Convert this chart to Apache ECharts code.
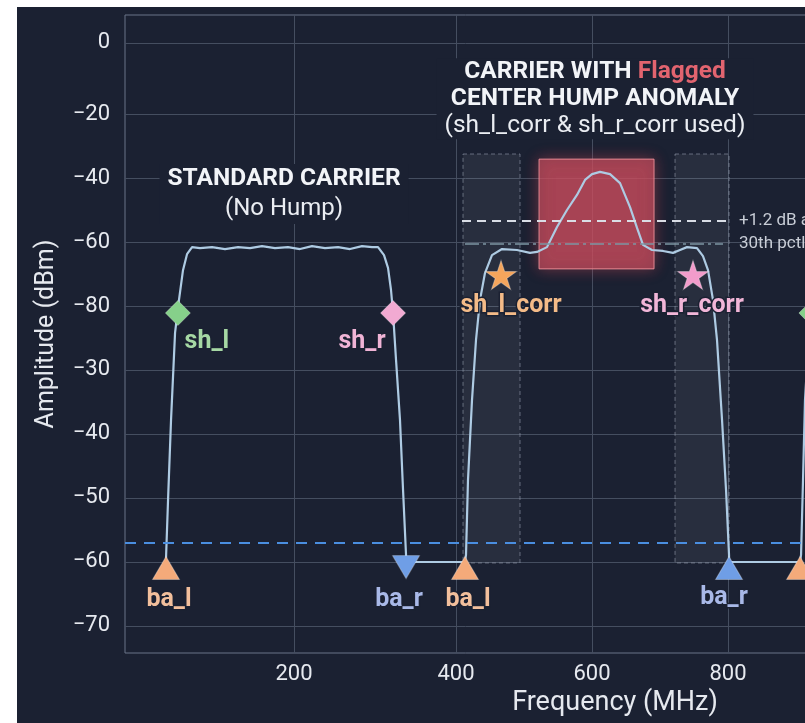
<!DOCTYPE html>
<html><head><meta charset="utf-8">
<script src="https://cdn.jsdelivr.net/npm/echarts@6/dist/echarts.min.js"></script>
<style>
html,body{margin:0;padding:0;background:#ffffff;width:805px;height:723px;overflow:hidden}
#panel{position:absolute;left:17px;top:7px;width:788px;height:716px;background:#1b2132}
#chart{position:absolute;left:0;top:0;width:805px;height:723px}
</style></head><body>
<div id="panel"></div><div id="chart"></div>
<script>
// ---- tick labels ----
const xTickValues = [161.8, 400, 600, 800];
const xTickLabels = ['200', '400', '600', '800'];
const yTickValues = [2.2, -20, -40, -60, -80, -100, -120, -140, -160, -180];
const yTickLabels = ['0', '\u221220', '\u221240', '\u221260', '\u221280', '\u221230', '\u221240', '\u221250', '\u221260', '\u221270'];

// ---- spectrum trace (MHz, dBm) ----
const traceFreq = [
  -26.5, -23.5, -19.1, -13.2, -7.4, -1.5, 4.4, 11.8, 23.5, 41.2, 60.3, 79.4, 97.1, 114.7, 133.8, 152.9,
  170.6, 188.2, 207.4, 226.5, 244.1, 261.8, 276.5, 285.3, 294.1, 300, 304.4, 307.4, 311.8, 317.6, 322.1,
  326.5, 326.5, 413.2,
  414.7, 417.6, 423.5, 429.4, 435.3, 442.6, 452.9, 467.6, 489.7, 508.8, 519.1, 533.8, 548.5, 563.2, 577.9,
  589.7, 600, 611.8, 626.5, 641.2, 655.9, 666.2, 675, 688.2, 704.4, 719.1, 729.4, 739.7, 754.4, 763.2,
  770.6, 777.9, 783.8, 791.2, 797.1, 801.5, 801.5, 905.9,
  907.4, 910.3, 913.2, 919.1, 925, 930.9, 936.8, 944.1, 960, 1000, 1040, 1080, 1120
];
const traceAmp = [
  -159, -140.6, -115.6, -88.4, -78.1, -68.8, -63.8, -61.6, -61.9, -61.6, -62.2, -61.6, -61.9, -61.3, -61.9, -61.6,
  -62.2, -61.3, -61.9, -61.6, -62.2, -61.3, -61.6, -61.6, -64.1, -68.1, -75, -82.2, -96.9, -115.6, -137.5,
  -157.8, -160, -160,
  -157.8, -134.4, -109.4, -90.6, -78.1, -69.7, -64.1, -62.2, -62.5, -63.4, -63.1, -61.6, -55.3, -50, -45.3,
  -40.6, -38.8, -38.1, -38.8, -41.6, -49.1, -55.6, -60.9, -62.5, -62.8, -63.4, -62.5, -61.6, -61.9, -64.4,
  -68.8, -78.1, -90.6, -115.6, -137.5, -157.8, -160, -160,
  -157.8, -134.4, -109.4, -88.4, -78.1, -68.8, -63.8, -61.6, -61.9, -61.3, -62, -61.5, -61.8
];

// ---- detected points ----
const shLeft = [[-9, -82.2], [922.6, -82.2]];
const shLeftNames = ['sh_l', ''];
const shRight = [[307.4, -82.2]];
const baLeft = [[-26.5, -161.9], [413.2, -161.9], [905.9, -161.9]];
const baLeftNames = ['ba_l', 'ba_l', ''];
const baRightDown = [[326.5, -161.6]];
const baRightUp = [[801.5, -161.9]];
const shLeftCorr = [[466.2, -70.3]];
const shRightCorr = [[748.5, -70.3]];

// ---- reference levels ----
const bandEdgeLevel = -154.1;
const humpLevel = -53.4;
const humpLevelSpan = [408.8, 800];
const pct30Level = -60.6;
const pct30Span = [413.2, 792.6];

// ---- regions ----
const shoulderWindows = [[410.3, 494.1], [722.1, 801.5]];
const shoulderWindowAmp = [-32.5, -160.3];
const humpBoxFreq = [522.1, 691.2];
const humpBoxAmp = [-34.1, -68.4];

// ---- annotations ----
const stdTitlePos = [147.1, -45];
const humpTitlePos = [604.4, -15.2];

const BG = '#1b2132';
const FONT = 'Roboto, "Noto Sans", sans-serif';
const TXT = '#e6e9ef';
const GRIDC = '#454e60';

function nearestLabel(values, labels, v) {
  let bi = 0, bd = Infinity;
  values.forEach((t, i) => { const d = Math.abs(t - v); if (d < bd) { bd = d; bi = i; } });
  return labels[bi];
}
const zip = (a, b) => a.map((v, i) => [v, b[i]]);
const named = (pts, names) => pts.map((p, i) => ({ value: p, name: names ? names[i] : '' }));

const STAR = 'path://M100,0 L122.45,69.1 L195.1,69.1 L136.3,111.8 L158.8,180.9 L100,138.2 L41.2,180.9 L63.7,111.8 L4.9,69.1 L77.55,69.1 Z';

function markerSeries(data, names, symbol, size, color, text, labelColor, offset, rotate) {
  return {
    type: 'scatter', data: named(data, names), symbol: symbol, symbolSize: size, symbolRotate: rotate || 0, z: 5,
    itemStyle: { color: color, opacity: 1, borderColor: 'rgba(255,255,255,0.3)', borderWidth: 1 },
    label: {
      show: true, formatter: names ? (p => p.name) : text, position: 'inside', offset: offset,
      color: labelColor, fontFamily: FONT, fontWeight: 'bold', fontSize: 25,
      textBorderColor: BG, textBorderWidth: 3
    }
  };
}

const option = {
  backgroundColor: 'transparent',
  animation: false,
  grid: { left: 125, top: 15, width: 980, height: 638, outerBoundsMode: 'none', containLabel: false, show: true, borderColor: '#6b7488', borderWidth: 1, backgroundColor: 'transparent' },
  xAxis: {
    type: 'value', min: -86.8, max: 1354.4,
    name: 'Frequency (MHz)', nameLocation: 'middle', nameGap: 34,
    nameTextStyle: { color: TXT, fontSize: 27, fontFamily: FONT },
    axisLine: { show: false },
    axisTick: { show: true, length: 6, customValues: xTickValues, lineStyle: { color: GRIDC } },
    axisLabel: { customValues: xTickValues, formatter: v => nearestLabel(xTickValues, xTickLabels, v), color: TXT, fontSize: 22, margin: 10, fontFamily: FONT },
    splitLine: { show: true, lineStyle: { color: GRIDC, width: 1 } }
  },
  yAxis: {
    type: 'value', min: -188.44, max: 10.94,
    name: 'Amplitude (dBm)', nameLocation: 'middle', nameGap: 66,
    nameTextStyle: { color: TXT, fontSize: 25, fontFamily: FONT },
    axisLine: { show: false },
    axisTick: { show: true, length: 7, customValues: yTickValues, lineStyle: { color: GRIDC } },
    axisLabel: { customValues: yTickValues, formatter: v => nearestLabel(yTickValues, yTickLabels, v), color: TXT, fontSize: 22, margin: 15, fontFamily: FONT },
    splitLine: { show: true, lineStyle: { color: GRIDC, width: 1 } }
  },
  series: [
    {
      type: 'line', data: zip(traceFreq, traceAmp), symbol: 'none', z: 3,
      lineStyle: { color: '#aecbe3', width: 2.2 },
      markArea: {
        silent: true,
        data: [
          [{ xAxis: shoulderWindows[0][0], yAxis: shoulderWindowAmp[0], itemStyle: { color: 'rgba(255,255,255,0.06)', borderColor: 'rgba(160,170,185,0.55)', borderWidth: 1, borderType: [4, 3] } },
           { xAxis: shoulderWindows[0][1], yAxis: shoulderWindowAmp[1] }],
          [{ xAxis: shoulderWindows[1][0], yAxis: shoulderWindowAmp[0], itemStyle: { color: 'rgba(255,255,255,0.06)', borderColor: 'rgba(160,170,185,0.55)', borderWidth: 1, borderType: [4, 3] } },
           { xAxis: shoulderWindows[1][1], yAxis: shoulderWindowAmp[1] }],
          [{ xAxis: humpBoxFreq[0], yAxis: humpBoxAmp[0], itemStyle: { color: 'rgba(200,78,94,0.66)', borderColor: 'rgba(245,150,160,0.85)', borderWidth: 1, shadowBlur: 14, shadowColor: 'rgba(225,75,90,0.6)' } },
           { xAxis: humpBoxFreq[1], yAxis: humpBoxAmp[1] }]
        ]
      },
      markLine: {
        silent: true, symbol: ['none', 'none'],
        data: [
          { yAxis: bandEdgeLevel, lineStyle: { color: '#4a8ee0', width: 2, type: [11, 8] }, label: { show: false } },
          [{ coord: [humpLevelSpan[0], humpLevel], lineStyle: { color: '#d9dde5', width: 2, type: [9, 6] },
             label: { show: true, position: 'end', distance: 11, formatter: '+1.2 dB above baseline', color: '#c8cdd6', fontSize: 17, fontFamily: FONT } },
           { coord: [humpLevelSpan[1], humpLevel] }],
          [{ coord: [pct30Span[0], pct30Level], lineStyle: { color: '#7e97a4', width: 1.5, type: [14, 4, 3, 4] },
             label: { show: true, position: 'end', distance: 16, formatter: '30th pctl baseline', color: '#c8cdd6', fontSize: 17, fontFamily: FONT } },
           { coord: [pct30Span[1], pct30Level] }]
        ]
      }
    },
    markerSeries(shLeft, shLeftNames, 'diamond', 25, '#86d08a', 'sh_l', '#a6d8a4', [29, 29]),
    markerSeries(shRight, null, 'diamond', 25, '#f2aad2', 'sh_r', '#f0b4d6', [-31, 29]),
    markerSeries(baLeft, baLeftNames, 'triangle', [27, 23], '#f4aa7a', 'ba_l', '#f2bf9c', [3, 32]),
    markerSeries(baRightDown, null, 'triangle', [27, 23], '#6f9ee6', 'ba_r', '#a9b9e8', [-7, 33], 180),
    markerSeries(baRightUp, null, 'triangle', [27, 23], '#6f9ee6', 'ba_r', '#a9b9e8', [-5, 30]),
    markerSeries(shLeftCorr, null, STAR, [31, 29], '#f4a55c', 'sh_l_corr', '#f4bb88', [10, 31]),
    markerSeries(shRightCorr, null, STAR, [31, 29], '#f29ccb', 'sh_r_corr', '#f2b6d8', [-1, 31]),
    {
      type: 'scatter', symbolSize: 1, z: 6, itemStyle: { color: 'transparent', opacity: 1 },
      data: [
        { value: stdTitlePos, label: { formatter: '{b|STANDARD CARRIER}\n{r|(No Hump)}', rich: {
          b: { color: '#f2f4f8', fontWeight: 'bold', fontSize: 24.5, fontFamily: FONT, lineHeight: 30 },
          r: { color: '#eaedf2', fontSize: 24, fontFamily: FONT, lineHeight: 30 } } } },
        { value: humpTitlePos, label: { formatter: '{b|CARRIER WITH }{f|Flagged}\n{b|CENTER HUMP ANOMALY}\n{r|(sh_l_corr & sh_r_corr used)}' } }
      ],
      label: {
        show: true, position: 'inside', align: 'center', verticalAlign: 'middle',
        backgroundColor: BG, padding: [0, 8],
        rich: {
          b: { color: '#f2f4f8', fontWeight: 'bold', fontSize: 24.5, fontFamily: FONT, lineHeight: 27 },
          f: { color: '#e2646f', fontWeight: 'bold', fontSize: 24.5, fontFamily: FONT, lineHeight: 27 },
          r: { color: '#eaedf2', fontSize: 24.5, fontFamily: FONT, lineHeight: 27 }
        }
      }
    }
  ]
};
const chart = echarts.init(document.getElementById('chart'));
chart.setOption(option);
</script>
</body></html>
